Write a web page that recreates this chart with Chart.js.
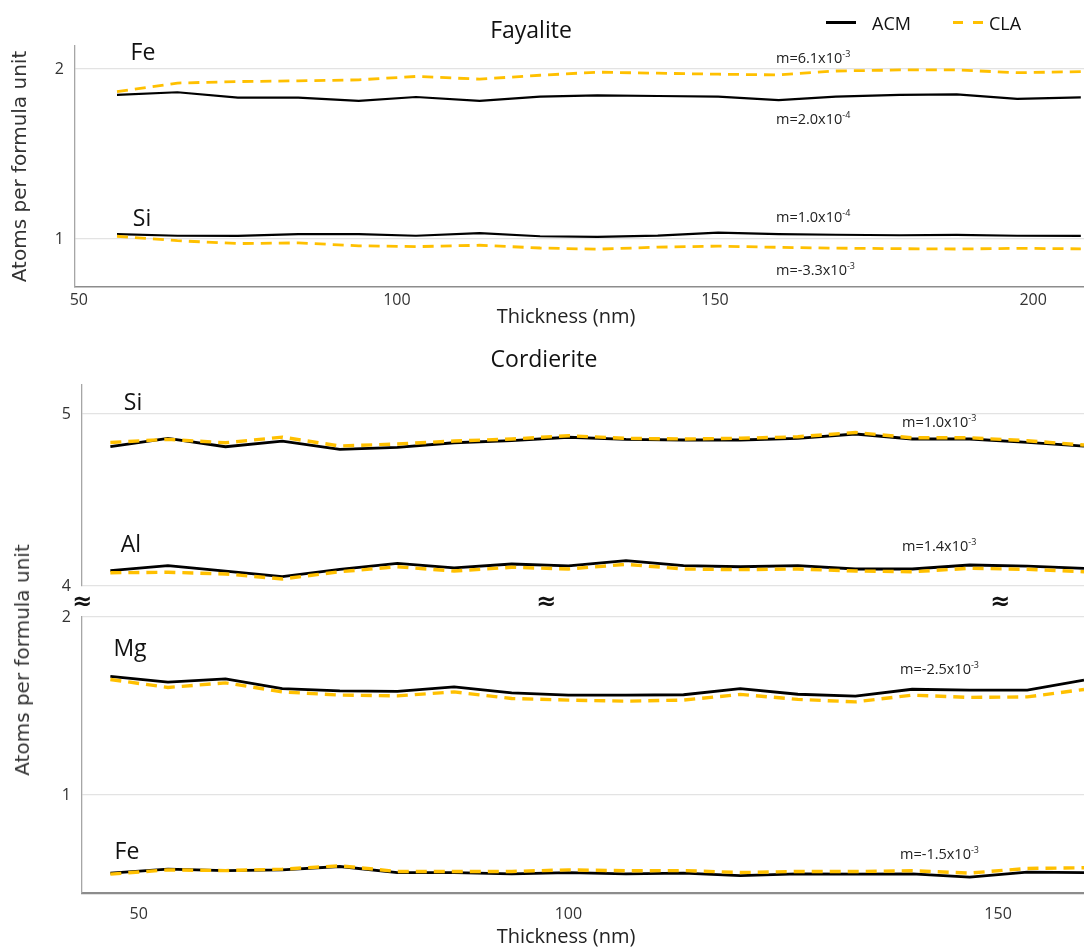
<!DOCTYPE html>
<html><head><meta charset="utf-8">
<script src="https://cdn.jsdelivr.net/npm/chart.js@4.4.1/dist/chart.umd.min.js"></script>
<style>
html,body{margin:0;padding:0;background:#fff;width:1084px;height:947px;overflow:hidden;}
canvas{position:absolute;left:0;}
.t{position:absolute;font-family:"Open Sans",sans-serif;color:#111;white-space:nowrap;line-height:1;}
.c{transform:translate(-50%,-50%);}
.m{font-size:14.5px;transform:translateY(-50%);color:#222;}
.m sup{font-size:9px;vertical-align:6px;}
.el{font-size:23px;}
.ttl{font-size:23px;}
.xt{font-size:20px;color:#222;}
.yt{position:absolute;font-family:"DejaVu Sans",sans-serif;font-size:20px;color:#333;white-space:nowrap;line-height:1;transform:translate(-50%,-50%) rotate(-90deg);}
.brk{position:absolute;font-family:"DejaVu Sans",sans-serif;font-weight:bold;font-size:24px;color:#111;transform:translate(-50%,-50%);line-height:1;}
.lg{position:absolute;height:3px;}
</style></head><body>
<canvas id="c1" width="1084" height="330" style="top:0"></canvas>
<canvas id="c2" width="1084" height="230" style="top:370px"></canvas>
<canvas id="c3" width="1084" height="347" style="top:600px"></canvas>

<div class="t c ttl" style="left:531px;top:29px">Fayalite</div>
<div class="lg" style="left:826px;top:21px;width:30px;background:#000"></div>
<div class="t" style="left:872px;top:23px;font-size:18px;transform:translateY(-50%)">ACM</div>
<div class="lg" style="left:953px;top:21px;width:10px;background:#FFC000"></div>
<div class="lg" style="left:973px;top:21px;width:10px;background:#FFC000"></div>
<div class="t" style="left:989px;top:23px;font-size:18px;transform:translateY(-50%)">CLA</div>

<div class="t c el" style="left:143px;top:51px">Fe</div>
<div class="t c el" style="left:142px;top:217px">Si</div>
<div class="t m" style="left:776px;top:57px">m=6.1x10<sup>-3</sup></div>
<div class="t m" style="left:776px;top:118px">m=2.0x10<sup>-4</sup></div>
<div class="t m" style="left:776px;top:216px">m=1.0x10<sup>-4</sup></div>
<div class="t m" style="left:776px;top:269px">m=-3.3x10<sup>-3</sup></div>
<div class="t c xt" style="left:566px;top:316px">Thickness (nm)</div>

<div class="t c ttl" style="left:544px;top:358px">Cordierite</div>
<div class="t c el" style="left:133px;top:401px">Si</div>
<div class="t c el" style="left:131px;top:543px">Al</div>
<div class="t c el" style="left:130px;top:647px">Mg</div>
<div class="t c el" style="left:127px;top:850px">Fe</div>
<div class="t m" style="left:902px;top:421px">m=1.0x10<sup>-3</sup></div>
<div class="t m" style="left:902px;top:545px">m=1.4x10<sup>-3</sup></div>
<div class="t m" style="left:900px;top:668px">m=-2.5x10<sup>-3</sup></div>
<div class="t m" style="left:900px;top:853px">m=-1.5x10<sup>-3</sup></div>
<div class="t c xt" style="left:566px;top:936px">Thickness (nm)</div>

<div class="yt" style="left:22px;top:660px">Atoms per formula unit</div>
<div class="brk" style="left:82px;top:601px">≈</div>
<div class="brk" style="left:546px;top:601px">≈</div>
<div class="brk" style="left:1000px;top:601px">≈</div>

<script>
// ---------- DATA ----------
const seriesNames = ['ACM', 'CLA'];
const xTickValues = [50, 100, 150, 200];

// Fayalite
const fayThickness = [56, 65.5, 75, 84.5, 94, 103, 113, 122.5, 131.5, 141, 150.5, 160, 169, 179, 188, 197.5, 207.5];
const fayFeACM = [1.847, 1.863, 1.831, 1.831, 1.812, 1.835, 1.812, 1.837, 1.845, 1.841, 1.837, 1.817, 1.837, 1.847, 1.851, 1.824, 1.833];
const fayFeCLA = [1.867, 1.917, 1.926, 1.930, 1.936, 1.956, 1.940, 1.963, 1.981, 1.975, 1.969, 1.965, 1.988, 1.994, 1.994, 1.978, 1.984];
const faySiACM = [1.028, 1.019, 1.018, 1.029, 1.028, 1.019, 1.035, 1.016, 1.012, 1.020, 1.037, 1.029, 1.025, 1.022, 1.024, 1.019, 1.018];
const faySiCLA = [1.016, 0.990, 0.973, 0.977, 0.960, 0.955, 0.963, 0.947, 0.940, 0.952, 0.958, 0.951, 0.946, 0.943, 0.941, 0.945, 0.942];
const fayYTicks = [1, 2];

// Cordierite
const corThickness = [46.7, 53.4, 60.1, 66.7, 73.4, 80.1, 86.7, 93.4, 100, 106.7, 113.4, 120, 126.7, 133.4, 140, 146.7, 153.4, 160];
const corSiACM = [4.810, 4.859, 4.810, 4.843, 4.795, 4.806, 4.833, 4.845, 4.865, 4.853, 4.849, 4.849, 4.859, 4.884, 4.855, 4.855, 4.835, 4.814];
const corSiCLA = [4.835, 4.853, 4.833, 4.866, 4.814, 4.826, 4.843, 4.855, 4.874, 4.859, 4.855, 4.859, 4.868, 4.893, 4.862, 4.862, 4.845, 4.820];
const corAlACM = [4.089, 4.118, 4.087, 4.054, 4.097, 4.132, 4.105, 4.128, 4.117, 4.147, 4.118, 4.112, 4.118, 4.099, 4.099, 4.122, 4.116, 4.103];
const corAlCLA = [4.077, 4.080, 4.070, 4.041, 4.083, 4.112, 4.087, 4.109, 4.099, 4.126, 4.099, 4.095, 4.099, 4.087, 4.083, 4.103, 4.097, 4.083];
const corMgACM = [1.666, 1.634, 1.652, 1.598, 1.585, 1.582, 1.607, 1.574, 1.561, 1.561, 1.563, 1.598, 1.566, 1.555, 1.594, 1.589, 1.589, 1.645];
const corMgCLA = [1.649, 1.604, 1.630, 1.579, 1.561, 1.557, 1.579, 1.542, 1.533, 1.527, 1.533, 1.565, 1.537, 1.523, 1.561, 1.548, 1.551, 1.593];
const corFeACM = [0.561, 0.583, 0.575, 0.579, 0.598, 0.564, 0.564, 0.557, 0.564, 0.557, 0.561, 0.547, 0.557, 0.555, 0.557, 0.538, 0.566, 0.564];
const corFeCLA = [0.555, 0.579, 0.575, 0.583, 0.602, 0.570, 0.570, 0.570, 0.579, 0.574, 0.575, 0.564, 0.570, 0.570, 0.574, 0.561, 0.587, 0.591];
const corUpperYTicks = [4, 5];
const corLowerYTicks = [1, 2];

// ---------- CHARTS ----------
const ORANGE = '#FFC000';
function pts(xs, ys) { return xs.map((x, i) => ({x: x, y: ys[i]})); }
function ds(label, xs, ys, isCLA, w) {
  return {
    label: label, data: pts(xs, ys),
    borderColor: isCLA ? ORANGE : '#000', borderWidth: isCLA ? w + 0.6 : w,
    borderDash: isCLA ? [11, 7] : [], pointRadius: 0, tension: 0, fill: false,
    order: isCLA ? 1 : 2
  };
}
const tickFont = {family: 'Open Sans', size: 16};
function makeChart(id, datasets, o) {
  const scales = {
    x: {
      type: 'linear', min: o.xmin, max: o.xmax, display: o.showX,
      afterBuildTicks: s => { s.ticks = xTickValues.filter(v => v >= o.xmin && v <= o.xmax).map(v => ({value: v})); },
      afterFit: s => { s.height = o.xh; s.paddingLeft = 0; s.paddingRight = 0; },
      grid: {display: false, drawTicks: false},
      border: {display: true, color: '#8c8c8c', width: o.xbw},
      ticks: {font: tickFont, color: '#333', padding: o.xpad, maxRotation: 0},
      title: {display: false, text: 'Thickness (nm)'}
    },
    y: {
      type: 'linear', min: o.ymin, max: o.ymax,
      afterBuildTicks: s => { s.ticks = o.yticks.map(v => ({value: v})); },
      afterFit: s => { s.width = o.yw; s.paddingTop = 0; s.paddingBottom = 0; },
      grid: {display: true, color: '#e3e3e3', lineWidth: 1.3, drawTicks: false},
      border: {display: true, color: '#a6a6a6', width: 1.3},
      ticks: {font: tickFont, color: '#333', padding: 11},
      title: {display: !!o.ytitle, text: 'Atoms per formula unit', color: '#333',
              font: {family: 'DejaVu Sans', size: 20, lineHeight: 1}, padding: {top: 11, bottom: 0}}
    }
  };
  return new Chart(document.getElementById(id), {
    type: 'line',
    data: {datasets: datasets},
    options: {
      responsive: false, animation: false,
      layout: {padding: o.pad},
      plugins: {legend: {display: false}, title: {display: false}, tooltip: {enabled: false}},
      scales: scales
    }
  });
}

makeChart('c1', [
  ds(seriesNames[0] + ' Fe', fayThickness, fayFeACM, false, 2.2),
  ds(seriesNames[1] + ' Fe', fayThickness, fayFeCLA, true, 2.2),
  ds(seriesNames[0] + ' Si', fayThickness, faySiACM, false, 2.2),
  ds(seriesNames[1] + ' Si', fayThickness, faySiCLA, true, 2.2)
], {xmin: 49.4, xmax: 208, ymin: 0.7176, ymax: 2.135, yticks: fayYTicks, showX: true,
    xh: 43, yw: 75, xpad: 4, xbw: 1.5, ytitle: true,
    pad: {top: 46, left: 0, right: 0, bottom: 0}});

makeChart('c2', [
  ds(seriesNames[0] + ' Si', corThickness, corSiACM, false, 2.8),
  ds(seriesNames[1] + ' Si', corThickness, corSiCLA, true, 2.8),
  ds(seriesNames[0] + ' Al', corThickness, corAlACM, false, 2.8),
  ds(seriesNames[1] + ' Al', corThickness, corAlCLA, true, 2.8)
], {xmin: 43.4, xmax: 160, ymin: 4, ymax: 5.169, yticks: corUpperYTicks, showX: false,
    xh: 0, yw: 82, xpad: 0, xbw: 1, ytitle: false,
    pad: {top: 15, left: 0, right: 0, bottom: 14}});

makeChart('c3', [
  ds(seriesNames[0] + ' Mg', corThickness, corMgACM, false, 2.8),
  ds(seriesNames[1] + ' Mg', corThickness, corMgCLA, true, 2.8),
  ds(seriesNames[0] + ' Fe', corThickness, corFeACM, false, 2.8),
  ds(seriesNames[1] + ' Fe', corThickness, corFeCLA, true, 2.8)
], {xmin: 43.4, xmax: 160, ymin: 0.449, ymax: 2.0, yticks: corLowerYTicks, showX: true,
    xh: 54, yw: 82, xpad: 12, xbw: 2.2, ytitle: false,
    pad: {top: 17, left: 0, right: 0, bottom: 0}});
</script>
</body></html>
